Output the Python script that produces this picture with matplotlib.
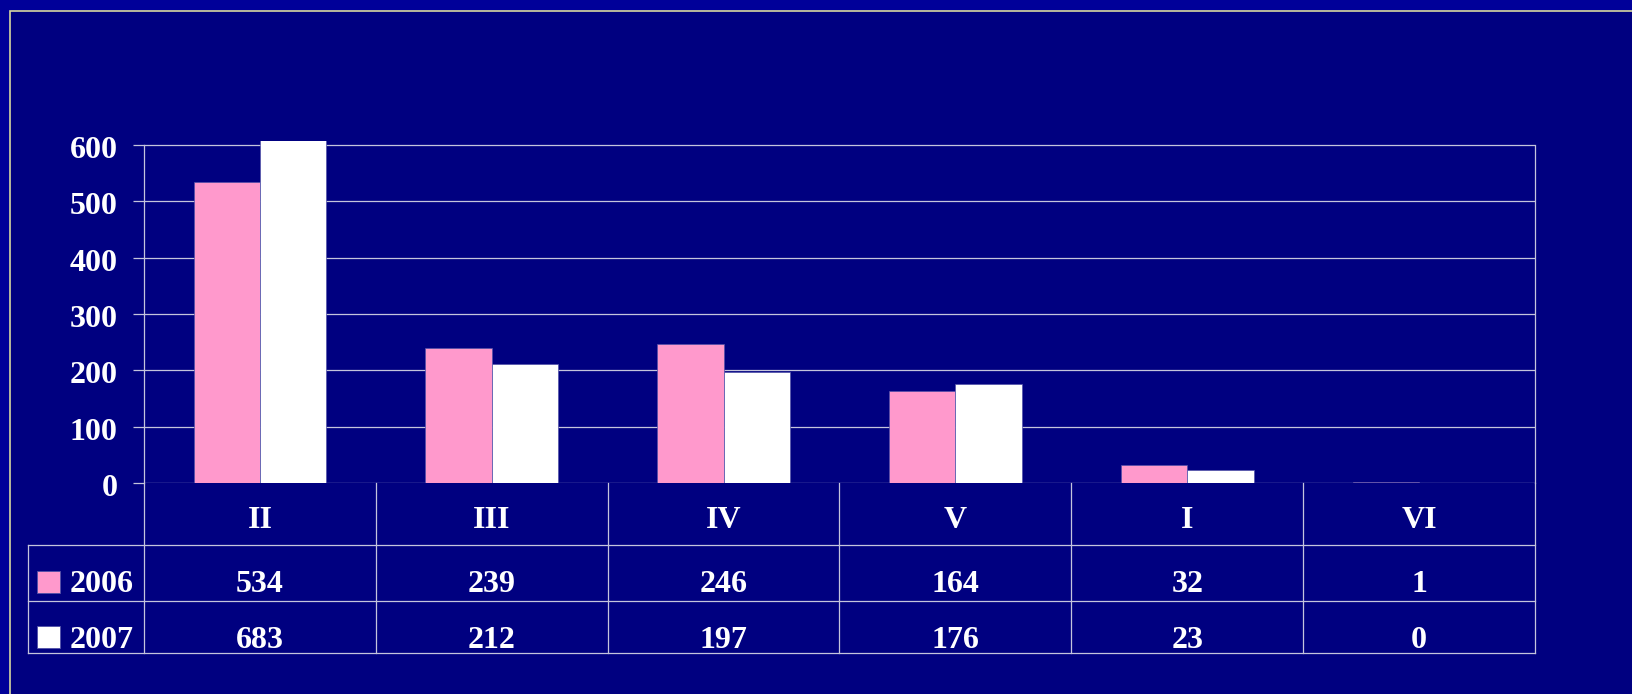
import matplotlib
matplotlib.use("Agg")
import matplotlib.pyplot as plt
from matplotlib.patches import Rectangle
from matplotlib.transforms import blended_transform_factory, ScaledTranslation

# データ
categories = ["II", "III", "IV", "V", "I", "VI"]
series_names = ["2006", "2007"]
values_2006 = [534, 239, 246, 164, 32, 1]
values_2007 = [683, 212, 197, 176, 23, 0]
series_colors = ["#FF99CC", "#FFFFFF"]
y_ticks = [0, 100, 200, 300, 400, 500, 600]

W, H = 1633, 694
bg = "#000080"
line_c = "#c4c4dc"
plt.rcParams["font.family"] = ["Liberation Serif", "DejaVu Serif"]
plt.rcParams["font.weight"] = "bold"
fs = 23

fig = plt.figure(figsize=(W / 100, H / 100), dpi=100)
fig.patch.set_facecolor("#000099")

# 枠（左上の細い線）
fig.patches.append(Rectangle((10 / W, -0.1), 1.2, 1 - 11 / H + 0.1, transform=fig.transFigure,
                             facecolor=bg, edgecolor="#d8d8a0", linewidth=1.2, zorder=-10))

# グラフ領域
ax = fig.add_axes([144 / W, (H - 483) / H, (1535 - 144) / W, (483 - 141) / H])
ax.set_facecolor(bg)
ax.set_xlim(-0.5, len(categories) - 0.5)
ax.set_ylim(0, 607)

x = list(range(len(categories)))
bw = 0.286
ax.bar([i - bw / 2 for i in x], values_2006, bw, color=series_colors[0],
       edgecolor="#5050a8", linewidth=0.5, zorder=3)
ax.bar([i + bw / 2 for i in x], values_2007, bw, color=series_colors[1],
       edgecolor="#5050a8", linewidth=0.5, zorder=3)

for t in y_ticks:
    ax.axhline(t, color=line_c, linewidth=0.9, zorder=1)

ax.set_yticks(y_ticks)
ax.set_yticklabels([str(t) for t in y_ticks], fontsize=fs, color="white", fontweight="bold")
ax.tick_params(axis="y", length=8, width=0.9, color=line_c, pad=11)
shift = ScaledTranslation(0, -2 / 100, fig.dpi_scale_trans)
for lab in ax.get_yticklabels():
    lab.set_transform(lab.get_transform() + shift)
ax.set_xticks([])
for s in ["top", "bottom"]:
    ax.spines[s].set_visible(False)
for s in ["left", "right"]:
    ax.spines[s].set_bounds(0, 600)
    ax.spines[s].set_color(line_c)
    ax.spines[s].set_linewidth(0.9)

# データテーブル
tr = blended_transform_factory(ax.transData, fig.transFigure)
fy = lambda px: 1 - px / H
n = len(categories)
row_lines = [545, 601, 653]
for py in row_lines:
    ax.plot([-1.0, n - 0.5], [fy(py)] * 2, transform=tr, color=line_c, lw=0.9, clip_on=False)
for i in range(n + 1):
    ax.plot([i - 0.5] * 2, [fy(483), fy(653)], transform=tr, color=line_c, lw=0.9, clip_on=False)
ax.plot([-1.0] * 2, [fy(545), fy(653)], transform=tr, color=line_c, lw=0.9, clip_on=False)

for i, c in enumerate(categories):
    ax.text(i, fy(520), c, transform=tr, ha="center", va="center",
            color="white", fontsize=fs, fontweight="bold")

row_y = [585, 640]
for r, (name, vals, col) in enumerate(zip(series_names, [values_2006, values_2007], series_colors)):
    for i, v in enumerate(vals):
        ax.text(i, fy(row_y[r]), str(v), transform=tr, ha="center", va="center",
                color="white", fontsize=fs, fontweight="bold")
    ax.add_patch(Rectangle((-0.962, fy(row_y[r] + 8)), 0.099, 22 / H, transform=tr,
                           facecolor=col, edgecolor="#5050a8", lw=0.6, clip_on=False))
    ax.text(-0.82, fy(row_y[r]), name, transform=tr, ha="left", va="center",
            color="white", fontsize=fs, fontweight="bold")

plt.savefig("out.png", dpi=100, facecolor=fig.get_facecolor())
